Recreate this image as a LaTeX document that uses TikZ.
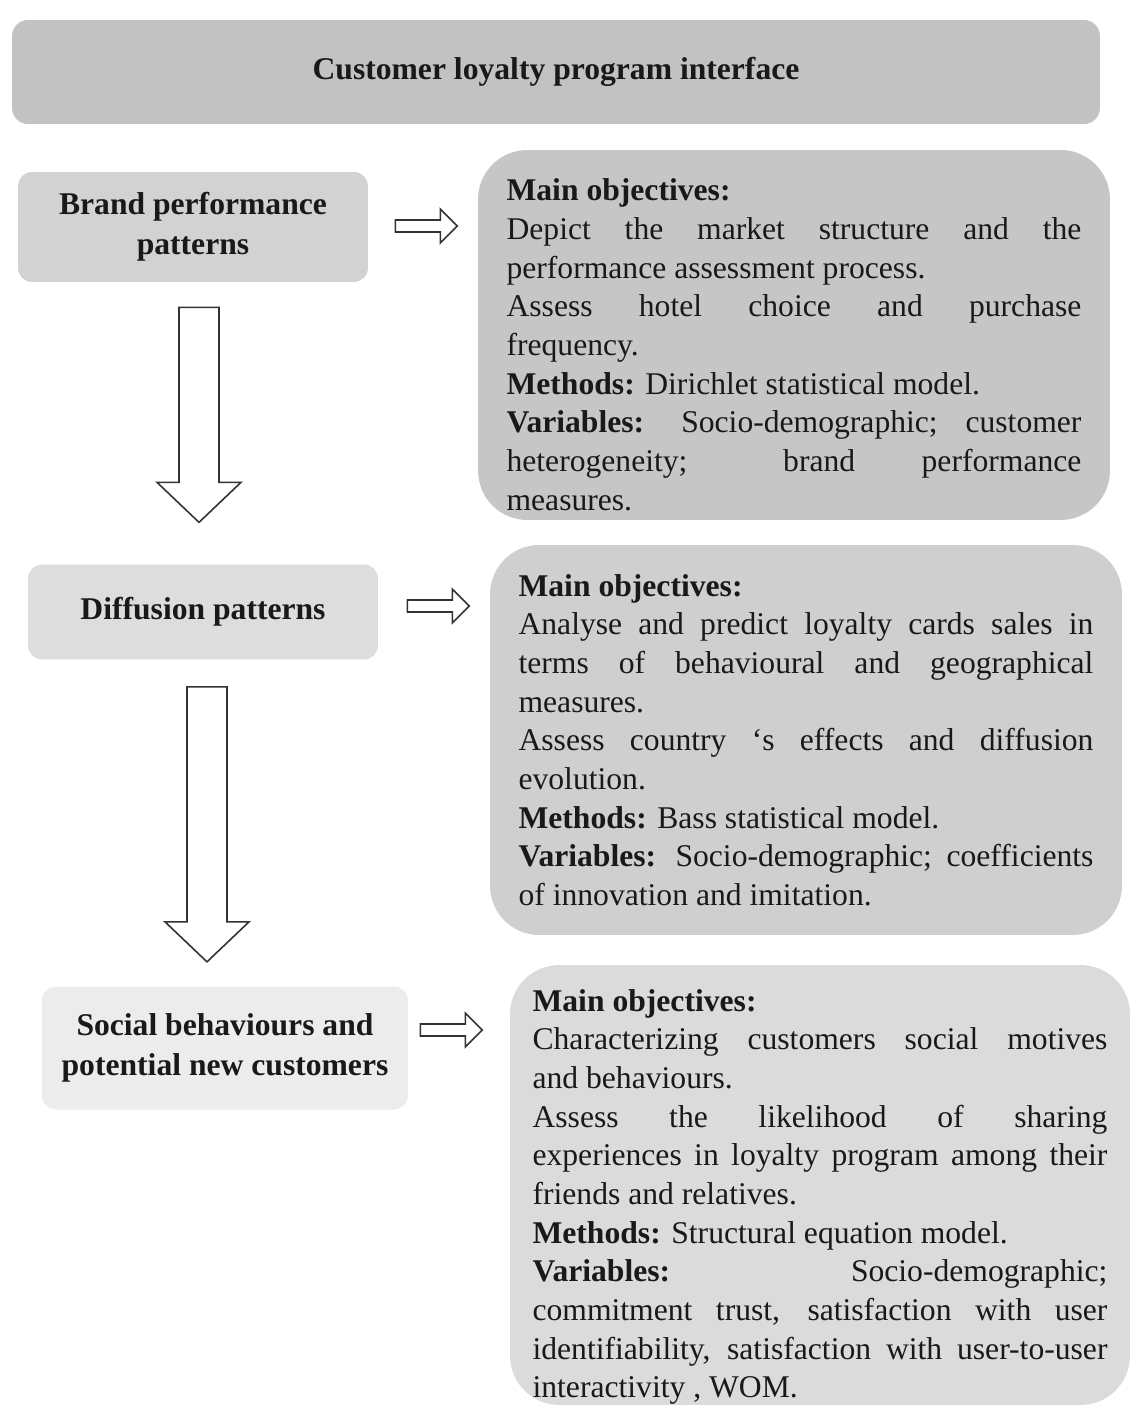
\documentclass[tikz,border=0pt]{standalone}
\usepackage{fontspec}
\setmainfont{Liberation Serif}
\usetikzlibrary{positioning,calc}
\tikzset{
headbox/.style={fill=gray!48, rounded corners=9pt, inner sep=0pt, text=black!90, font=\bfseries\fontsize{18}{22}\selectfont},
stagebox/.style={fill=#1, rounded corners=8pt, inner sep=0pt, align=center, text=black!90, font=\bfseries\fontsize{18}{22.7}\selectfont},
objbox/.style={fill=#1, rounded corners=28pt, inner sep=0pt, text width=11.5cm, align=justify, text=black!90, font=\fontsize{18}{22}\selectfont},
blockline/.style={draw=black!80, fill=white, line width=0.9pt, line join=miter}
}
% hollow block arrows: start point, length
\newcommand{\blockdown}[2]{\draw[blockline] (#1) ++(-20,0) -- ++(0,#2-40) -- ++(-22,0) -- ++(42,40) -- ++(42,-40) -- ++(-22,0) -- ++(0,40-#2) -- cycle;}
\newcommand{\blockright}[2]{\draw[blockline] (#1) ++(0,-6) -- ++(#2-17,0) -- ++(0,-11) -- ++(17,17) -- ++(-17,17) -- ++(0,-11) -- ++(17-#2,0) -- cycle;}

\begin{document}
\begin{tikzpicture}[x=0.02cm, y=-0.02cm]
\path[fill=white] (0,0) rectangle (1136,1413);

\node[headbox, minimum width=21.76cm, minimum height=2.08cm] (head) at (556,72) {Customer loyalty program interface};

\node[stagebox=gray!35, minimum width=7cm, minimum height=2.2cm] (brand) at (193,227) {Brand performance\\patterns};
\node[stagebox=gray!27, minimum width=7cm, minimum height=1.9cm] (diff) at (203,612) {Diffusion patterns};
\node[stagebox=gray!15, minimum width=7.32cm, minimum height=2.46cm] (social) at (225,1048) {Social behaviours and\\potential new customers};

\node[objbox=gray!45, minimum width=12.64cm, minimum height=7.4cm] (obj1) at (794,335) {\rule{0pt}{23.7pt}\textbf{Main objectives:}\\
Depict the market structure and the\linebreak performance assessment process.\\
Assess hotel choice and purchase\linebreak frequency.\\
\textbf{Methods:} Dirichlet statistical model.\\
\textbf{Variables:} Socio-demographic; customer\linebreak heterogeneity; brand performance\linebreak measures.};
\node[objbox=gray!38, minimum width=12.64cm, minimum height=7.8cm] (obj2) at (806,740) {\textbf{Main objectives:}\\
Analyse and predict loyalty cards sales in\linebreak terms of behavioural and geographical\linebreak measures.\\
Assess country ‘s effects and diffusion\linebreak evolution.\\
\textbf{Methods:} Bass statistical model.\\
\textbf{Variables:} Socio-demographic; coefficients\linebreak of innovation and imitation.};
\node[objbox=gray!28, minimum width=12.4cm, minimum height=8.8cm] (obj3) at (820,1185) {\rule{0pt}{26pt}\textbf{Main objectives:}\\
Characterizing customers social motives\linebreak and behaviours.\\
Assess the likelihood of sharing\linebreak experiences in loyalty program among their\linebreak friends and relatives.\\
\textbf{Methods:} Structural equation model.\\
\textbf{Variables:} Socio-demographic;\linebreak commitment trust, satisfaction with user\linebreak identifiability, satisfaction with user-to-user\linebreak interactivity , WOM.};

\blockdown{$(brand.south)+(6,25)$}{215}
\blockdown{$(diff.south)+(4,27)$}{275}
\foreach \n/\dx/\dy in {brand/27/-1, diff/29/-6, social/12/-18}{
	\blockright{$(\n.east)+(\dx,\dy)$}{62}
}
\end{tikzpicture}
\end{document}
